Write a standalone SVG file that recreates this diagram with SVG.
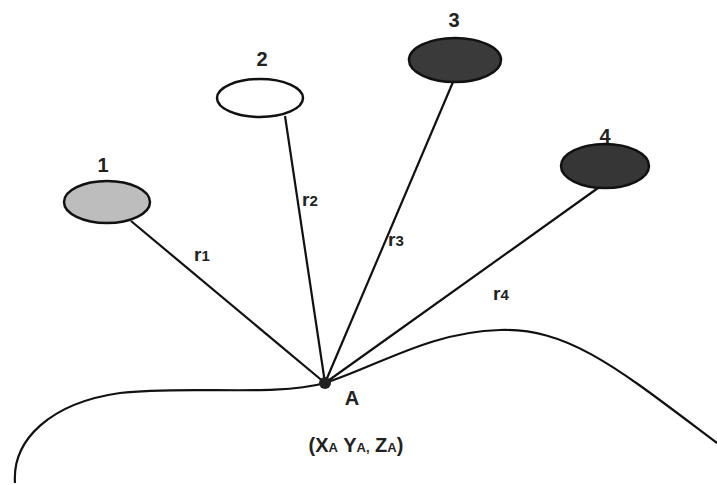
<svg xmlns="http://www.w3.org/2000/svg" width="717" height="485" viewBox="0 0 717 485">
<style>
.lbl{font-family:"Liberation Sans",Arial,sans-serif;font-weight:bold;font-size:20px;fill:#222;text-anchor:middle}
.r{font-family:"Liberation Sans",Arial,sans-serif;font-weight:bold;font-size:19px;fill:#222}
.sub{font-size:15px}
.ln{stroke:#111;stroke-width:2.2;fill:none}
.el{stroke:#111;stroke-width:2.5}
</style>
<rect width="717" height="485" fill="#fff"/>
<g id="connectors">
<line class="ln" x1="131" y1="221" x2="325" y2="383"/>
<line class="ln" x1="285" y1="116" x2="325" y2="383"/>
<line class="ln" x1="453" y1="82" x2="325" y2="383"/>
<line class="ln" x1="598" y1="188" x2="325" y2="383"/>
<path class="ln" d="M15,483 C12,440 50,403 120,393 C185,385 275,397 325,383 C380,365 430,332 500,330 C570,328 620,370 717,443"/>
<text class="r" x="194" y="261">r<tspan class="sub">1</tspan></text>
<text class="r" x="302" y="206">r<tspan class="sub">2</tspan></text>
<text class="r" x="388" y="246">r<tspan class="sub">3</tspan></text>
<text class="r" x="493" y="300">r<tspan class="sub">4</tspan></text>
</g>
<g id="node1">
<ellipse class="el" cx="107" cy="202" rx="43" ry="21" fill="#bdbdbd"/>
<text class="lbl" x="103" y="172">1</text>
</g>
<g id="node2">
<ellipse class="el" cx="260" cy="98" rx="43" ry="19" fill="#fff"/>
<text class="lbl" x="262" y="66">2</text>
</g>
<g id="node3">
<ellipse class="el" cx="455" cy="60" rx="46" ry="22" fill="#3a3a3a"/>
<text class="lbl" x="454" y="27">3</text>
</g>
<g id="node4">
<ellipse class="el" cx="605" cy="166" rx="44" ry="22" fill="#363636"/>
<text class="lbl" x="605" y="143">4</text>
</g>
<g id="nodeA">
<circle cx="325" cy="383" r="6" fill="#222"/>
<text class="lbl" x="352" y="405">A</text>
<text class="lbl" x="356" y="452">(X<tspan style="font-size:13px">A</tspan> Y<tspan style="font-size:13px">A,</tspan> Z<tspan style="font-size:13px">A</tspan>)</text>
</g>
</svg>
